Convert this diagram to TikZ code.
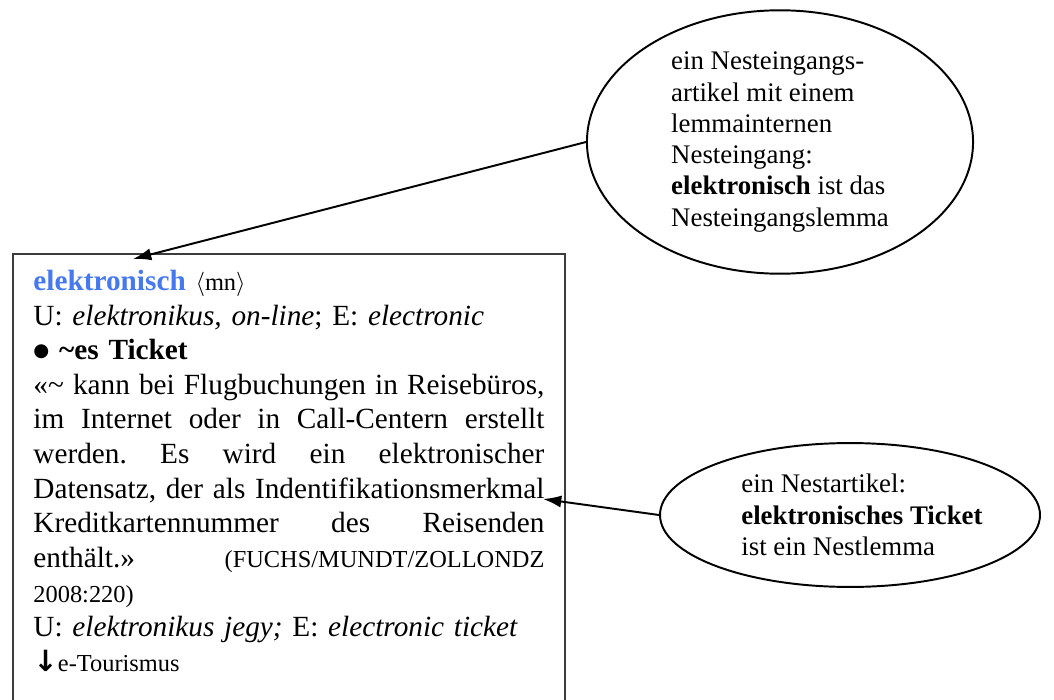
\documentclass[tikz,border=0pt]{standalone}
\usepackage{fontspec}
\setmainfont{Liberation Serif}
\newfontfamily\arrowfont{DejaVu Sans}
\usetikzlibrary{shapes.geometric,arrows.meta}

\definecolor{lemmablue}{RGB}{70,120,240}
\definecolor{boxgray}{RGB}{60,60,60}
\newlength\entrywidth
\setlength\entrywidth{209.5pt}
\newcommand{\fullline}[1]{\makebox[\entrywidth][s]{\frenchspacing\spaceskip=0pt\xspaceskip=0pt #1}}
\newcommand{\smalltext}{\fontsize{10}{12}\selectfont}

\begin{document}
\begin{tikzpicture}[x=0.41pt, y=-0.41pt,
    entrybox/.style={draw=boxgray, line width=0.8pt, anchor=north west, text width=\entrywidth,
        inner xsep=8.4pt, inner ysep=6.6pt, align=left, font=\fontsize{12}{14.2}\selectfont},
    note/.style={draw, ellipse, line width=0.8pt, inner sep=0pt, align=left, font=\fontsize{11}{12.8}\selectfont},
    pointer/.style={-{Latex[length=7.5pt,width=5pt]}, line width=0.8pt}]
    \useasboundingbox (0,0) rectangle (1054,700);

    % dictionary entry
    \node[entrybox] (entry) at (12,253) {%
        {\color{lemmablue}\bfseries elektronisch} {\smalltext$\langle$mn$\rangle$}\\
        U: \textit{elektronikus, on-line}; E: \textit{electronic}\\
        \raisebox{1.2pt}{\fontsize{7.5}{8}\arrowfont ●} \textbf{\textasciitilde es Ticket}\\
        \fullline{«\textasciitilde{} kann bei Flugbuchungen in Reisebüros,}\\
        \fullline{im Internet oder in Call-Centern erstellt}\\
        \fullline{werden. Es wird ein elektronischer}\\
        \fullline{Datensatz, der als Indentifikationsmerkmal}\\
        \fullline{Kreditkartennummer des Reisenden}\\
        \fullline{enthält.» {\smalltext(FUCHS/MUNDT/ZOLLONDZ}}\\
        {\smalltext 2008:220)}\\
        U: \textit{elektronikus jegy;} E: \textit{electronic ticket}\\
        {\arrowfont\bfseries ↓}{\smalltext e-Tourismus}\\
        ~};

    % comments
    \node[note, minimum width=158.3pt, minimum height=108pt] (nestentry) at (780,142)
        {ein Nesteingangs-\\artikel mit einem\\lemmainternen\\Nesteingang:\\\textbf{elektronisch} ist das\\Nesteingangslemma};
    \node[note, minimum width=155.8pt, minimum height=59pt] (nestarticle) at (850,515)
        {\hspace*{9.8pt}ein Nestartikel:\\\hspace*{9.8pt}\textbf{elektronisches Ticket}\\\hspace*{9.8pt}ist ein Nestlemma};

    \coordinate (tip1) at (133,259);
    \coordinate (tip2) at (543,499);
    \draw[pointer] (nestentry.west) -- (tip1);
    \draw[pointer] (nestarticle.west) -- (tip2);
\end{tikzpicture}
\end{document}
